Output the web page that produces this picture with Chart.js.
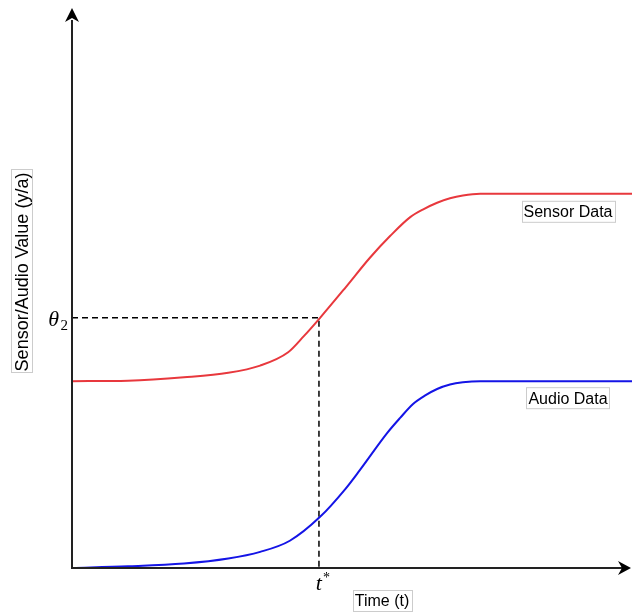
<!DOCTYPE html>
<html>
<head>
<meta charset="utf-8">
<script src="https://cdn.jsdelivr.net/npm/chart.js@4.4.1/dist/chart.umd.min.js"></script>
<style>
  html, body { margin: 0; padding: 0; background: #fff; }
  #wrap { width: 636px; height: 614px; position: relative; }
</style>
</head>
<body>
<div id="wrap"><canvas id="c" width="636" height="614"></canvas></div>
<script>
// time axis (arbitrary units) and the two curves
const sensorX = [0, 1.00, 2.00, 2.79, 3.36, 3.86, 4.14, 4.43, 4.88, 5.32, 5.68, 6.04, 6.29, 6.52, 6.75, 6.98, 7.29, 10];
const sensorY = [3.36, 3.37, 3.43, 3.51, 3.64, 3.88, 4.17, 4.50, 5.04, 5.58, 5.97, 6.31, 6.46, 6.57, 6.65, 6.70, 6.73, 6.73];
const audioX = [0, 1.00, 2.00, 2.79, 3.36, 3.89, 4.43, 4.88, 5.14, 5.63, 5.86, 6.09, 6.30, 6.52, 6.75, 6.98, 7.29, 10];
const audioY = [0, 0.03, 0.08, 0.17, 0.29, 0.49, 0.92, 1.42, 1.76, 2.43, 2.70, 2.95, 3.10, 3.22, 3.30, 3.34, 3.36, 3.36];

// threshold crossing
const tStar = 4.41;
const theta2 = 4.5;

const xRange = [0, 10];
const yRange = [0, 10];

const labelFont = '16px "Liberation Sans", Arial, sans-serif';

function pts(xs, ys) {
    return xs.map((x, i) => ({ x: x, y: ys[i] }));
}

// draws axes w/ arrowheads + boxed text labels
const decorPlugin = {
    id: 'decor',
    afterDatasetsDraw(chart) {
        const ctx = chart.ctx;
        const xs = chart.scales.x, ys = chart.scales.y;
        const x0 = xs.getPixelForValue(0), y0 = ys.getPixelForValue(0);
        const top = chart.chartArea.top, right = chart.chartArea.right;

        ctx.save();
        ctx.strokeStyle = '#222';
        ctx.fillStyle = '#000';
        ctx.lineWidth = 2;
        // y axis
        ctx.beginPath();
        ctx.moveTo(x0, y0 + 1);
        ctx.lineTo(x0, top + 8);
        ctx.stroke();
        ctx.beginPath();
        ctx.moveTo(x0, top - 4);
        ctx.lineTo(x0 + 7, top + 10);
        ctx.lineTo(x0, top + 6);
        ctx.lineTo(x0 - 7, top + 10);
        ctx.closePath();
        ctx.fill();
        // x axis
        ctx.beginPath();
        ctx.moveTo(x0 - 1, y0);
        ctx.lineTo(right - 10, y0);
        ctx.stroke();
        ctx.beginPath();
        ctx.moveTo(right - 1, y0);
        ctx.lineTo(right - 14, y0 - 7);
        ctx.lineTo(right - 10, y0);
        ctx.lineTo(right - 14, y0 + 7);
        ctx.closePath();
        ctx.fill();

        // boxed labels
        function boxText(txt, cx, cy, rot, font) {
            ctx.save();
            ctx.translate(cx, cy);
            if (rot) ctx.rotate(rot);
            ctx.font = font || labelFont;
            const w = ctx.measureText(txt).width;
            ctx.fillStyle = '#fff';
            ctx.fillRect(-w / 2 - 2, -10, w + 4, 20);
            ctx.strokeStyle = '#ccc';
            ctx.lineWidth = 1;
            ctx.strokeRect(Math.round(-w / 2 - 2) + 0.5, -10.5, Math.round(w + 4), 21);
            ctx.fillStyle = '#000';
            ctx.textAlign = 'center';
            ctx.textBaseline = 'middle';
            ctx.fillText(txt, 0, 1);
            ctx.restore();
        }
        const lastX = sensorX[sensorX.length - 1];
        boxText('Sensor Data', xs.getPixelForValue(lastX) - 64, ys.getPixelForValue(sensorY[sensorY.length - 1]) + 18);
        boxText('Audio Data', xs.getPixelForValue(lastX) - 64, ys.getPixelForValue(audioY[audioY.length - 1]) + 17);
        boxText('Time (t)', 382, 601);
        boxText('Sensor/Audio Value (y/a)', 22, 272, -Math.PI / 2, '18px "Liberation Sans", Arial, sans-serif');

        // math labels
        ctx.fillStyle = '#000';
        ctx.textBaseline = 'alphabetic';
        const ty = ys.getPixelForValue(theta2);
        ctx.font = 'italic 22px "Liberation Serif", "DejaVu Serif", serif';
        ctx.textAlign = 'right';
        ctx.fillText('\u03B8', 59, ty + 8);
        ctx.font = '15px "Liberation Serif", "DejaVu Serif", serif';
        ctx.fillText('2', 68, ty + 12);
        const tx = xs.getPixelForValue(tStar);
        ctx.font = 'italic 22px "Liberation Serif", "DejaVu Serif", serif';
        ctx.textAlign = 'right';
        ctx.fillText('t', tx + 3, y0 + 22);
        ctx.font = '14px "Liberation Serif", "DejaVu Serif", serif';
        ctx.textAlign = 'left';
        ctx.fillText('*', tx + 4, y0 + 14);
        ctx.restore();
    }
};

new Chart(document.getElementById('c'), {
    type: 'line',
    data: {
        datasets: [
            {
                label: 'Sensor Data',
                data: pts(sensorX, sensorY),
                borderColor: '#e8383d',
                borderWidth: 2,
                pointRadius: 0,
                cubicInterpolationMode: 'monotone',
                fill: false
            },
            {
                label: 'Audio Data',
                data: pts(audioX, audioY),
                borderColor: '#1414e6',
                borderWidth: 2,
                pointRadius: 0,
                cubicInterpolationMode: 'monotone',
                fill: false
            },
            {
                label: 'threshold',
                data: [{ x: 0, y: theta2 }, { x: tStar, y: theta2 }, { x: tStar, y: 0 }],
                borderColor: '#000',
                borderWidth: 1.5,
                borderDash: [6, 4],
                pointRadius: 0,
                tension: 0,
                fill: false
            }
        ]
    },
    options: {
        responsive: false,
        animation: false,
        layout: { padding: { left: 72, right: 4, top: 12, bottom: 46 } },
        plugins: { legend: { display: false }, tooltip: { enabled: false } },
        scales: {
            x: { type: 'linear', min: xRange[0], max: xRange[1], display: false },
            y: { type: 'linear', min: yRange[0], max: yRange[1], display: false }
        }
    },
    plugins: [decorPlugin]
});
</script>
</body>
</html>
